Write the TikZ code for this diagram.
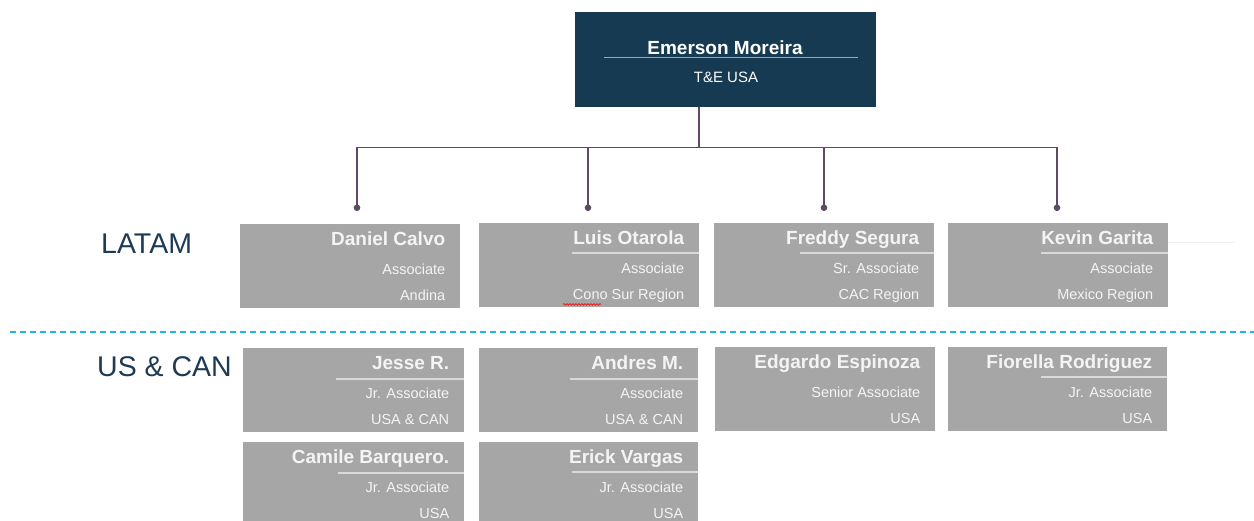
\documentclass[tikz,border=0pt]{standalone}
\usepackage{fontspec}
\setmainfont{Liberation Sans}
\usetikzlibrary{arrows.meta,calc,decorations.pathmorphing}
\definecolor{navy}{HTML}{153A52}
\definecolor{boxgray}{HTML}{A6A6A6}
\definecolor{connc}{HTML}{5E4A66}
\definecolor{sepc}{HTML}{D9D9D9}
\definecolor{bosssep}{HTML}{9AA8B4}
\definecolor{divc}{HTML}{1DB5EE}
\definecolor{labelc}{HTML}{1E3A55}
\definecolor{faintc}{HTML}{EFEFEF}
\definecolor{txtc}{HTML}{F4F4F4}

\newcommand{\orgcard}[7]{%
  \node[cardbox, minimum width=#4] (#1) at (#2,#3) {};
  \node[nametext] (#1-n) at ($(#1.north east)+(-15,19)$) {#5};
  \node[subtext] (#1-t) at ($(#1.north east)+(-15,48)$) {#6};
  \node[subtext] (#1-r) at ($(#1.north east)+(-15,74)$) {#7};
}

\begin{document}
\begin{tikzpicture}[x=1pt,y=-1pt,
  cardbox/.style={fill=boxgray, draw=none, inner sep=0pt, anchor=north west, minimum height=84},
  nametext/.style={anchor=mid east, inner sep=0pt, text=txtc, font=\fontsize{19}{22}\selectfont\bfseries},
  subtext/.style={anchor=mid east, inner sep=0pt, text=txtc, font=\fontsize{14.5}{17}\selectfont},
  sepline/.style={draw=sepc, line width=1.5pt},
  connline/.style={draw=connc, line width=1.5pt},
  dotend/.style={-{Circle[length=6.5pt]}},
  regionlabel/.style={anchor=west, inner sep=0pt, text=labelc, font=\fontsize{28.5}{31}\selectfont},
  divider/.style={draw=divc, line width=1.5pt, dash pattern=on 6pt off 4pt}
]
\useasboundingbox (0,0) rectangle (1254,520);

% top box
\node[fill=navy, draw=none, inner sep=0pt, anchor=north west, minimum width=301, minimum height=95] (boss) at (575,12) {};
\node[inner sep=0pt, text=white, font=\fontsize{19}{22}\selectfont\bfseries] (boss-n) at (725,48) {Emerson Moreira};
\node[inner sep=0pt, text=white, font=\fontsize{15}{18}\selectfont] (boss-t) at (726,77) {T\&E USA};
\draw[draw=bosssep, line width=1.3pt] (604,57.5) -- (858,57.5);

% region labels
\node[regionlabel] (latam) at (101,244) {LATAM};
\node[regionlabel] (uscan) at (97,367) {US \& CAN};

% divider
\coordinate (divL) at (10,332);
\coordinate (divR) at (1254,332);
\draw[divider] (divL) -- (divR);

% LATAM row
\orgcard{daniel}{240}{224}{220}{Daniel Calvo}{Associate}{Andina}
\orgcard{luis}{479}{223}{220}{Luis Otarola}{Associate}{Cono Sur Region}
\orgcard{freddy}{714}{223}{220}{Freddy Segura}{Sr. Associate}{CAC Region}
\orgcard{kevin}{948}{223}{220}{Kevin Garita}{Associate}{Mexico Region}
\draw[sepline] ($(luis.north east)+(-127,30)$) -- ($(luis.north east)+(0,30)$);
\draw[sepline] ($(freddy.north east)+(-134,30)$) -- ($(freddy.north east)+(0,30)$);
\draw[sepline] ($(kevin.north east)+(-127,30)$) -- ($(kevin.north east)+(0,30)$);
\draw[faintc, line width=1pt] ($(kevin.north east)+(0,19)$) -- ($(kevin.north east)+(67,19)$);
\draw[red, line width=0.6pt, decorate, decoration={snake, amplitude=0.9pt, segment length=3pt}]
  ($(luis.south west)+(84,-3)$) -- ($(luis.south west)+(122,-3)$);

% US & CAN row
\orgcard{jesse}{243}{348}{221}{Jesse R.}{Jr. Associate}{USA \& CAN}
\orgcard{andres}{479}{348}{219}{Andres M.}{Associate}{USA \& CAN}
\orgcard{edgardo}{715}{347}{220}{Edgardo Espinoza}{Senior Associate}{USA}
\orgcard{fiorella}{948}{347}{219}{Fiorella Rodriguez}{Jr. Associate}{USA}
\orgcard{camile}{243}{442}{221}{Camile Barquero.}{Jr. Associate}{USA}
\orgcard{erick}{479}{442}{219}{Erick Vargas}{Jr. Associate}{USA}
\draw[sepline] ($(jesse.north east)+(-128,31)$) -- ($(jesse.north east)+(0,31)$);
\draw[sepline] ($(andres.north east)+(-128,31)$) -- ($(andres.north east)+(0,31)$);
\draw[sepline] ($(fiorella.north east)+(-126,30)$) -- ($(fiorella.north east)+(0,30)$);
\draw[sepline] ($(camile.north east)+(-126,31)$) -- ($(camile.north east)+(0,31)$);
\draw[sepline] ($(erick.north east)+(-126,30)$) -- ($(erick.north east)+(0,30)$);

% connectors
\coordinate (bossdrop) at ($(boss.south west)+(124,0)$);
\coordinate (bus) at ($(bossdrop)+(0,40)$);
\coordinate (dDaniel) at ($(daniel.north west)+(117,-13)$);
\coordinate (dLuis) at ($(luis.north west)+(109,-12)$);
\coordinate (dFreddy) at ($(freddy.north west)+(110,-12)$);
\coordinate (dKevin) at ($(kevin.north west)+(109,-12)$);
\draw[connline] (bossdrop) -- (bus);
\draw[connline, dotend] (bus) -| (dDaniel);
\draw[connline, dotend] (bus) -| (dLuis);
\draw[connline, dotend] (bus) -| (dFreddy);
\draw[connline, dotend] (bus) -| (dKevin);
\end{tikzpicture}
\end{document}
